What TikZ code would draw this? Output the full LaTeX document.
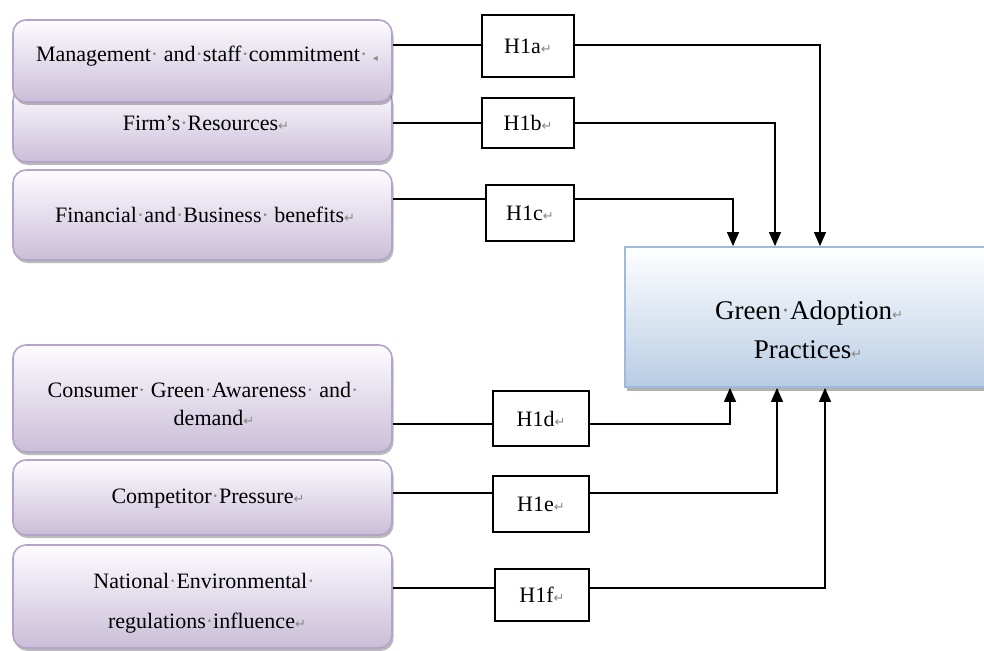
\documentclass[tikz,border=0pt]{standalone}
\usepackage{fontspec}
\setmainfont{Liberation Serif}
\newfontfamily\symfont{DejaVu Sans}
\usetikzlibrary{shadows,arrows.meta}
\definecolor{lavtop}{RGB}{253,252,255}
\definecolor{lavbot}{RGB}{202,190,216}
\definecolor{lavline}{RGB}{180,164,201}
\definecolor{bluebot}{RGB}{184,204,228}
\definecolor{blueline}{RGB}{160,186,220}
\definecolor{markgray}{RGB}{135,135,135}
\newcommand\wsdot{\textcolor{markgray}{·}}
\newcommand\retmark{{\symfont\fontsize{13}{13}\selectfont\textcolor{markgray}{↵}}}
\newcommand\tailmark{{\symfont\fontsize{10}{10}\selectfont\textcolor{markgray}{◂}}}
\begin{document}
\begin{tikzpicture}[x=1pt,y=-1pt,
  factor/.style={draw=lavline, line width=1.6pt, rounded corners=13pt,
    top color=lavtop, bottom color=lavbot, minimum width=379pt, inner sep=0pt,
    drop shadow={shadow xshift=1.5pt, shadow yshift=-3pt, fill=black!60, opacity=0.45}},
  hyp/.style={draw=black, line width=1.2pt, fill=white, inner sep=0pt,
    font=\fontsize{22}{26}\selectfont},
  txt/.style={font=\fontsize{22}{26}\selectfont, inner sep=0pt, anchor=base},
  gtxt/.style={font=\fontsize{27}{32}\selectfont, inner sep=0pt, anchor=base},
  ln/.style={draw=black, line width=1.2pt},
  arr/.style={ln, -{Triangle[width=12pt,length=14pt]}}]
\useasboundingbox (0,0) rectangle (984,650);

% factor boxes (box2 first: lies behind box1)
\node[factor, minimum height=74pt]  (b2) at (202.5,125) {};
\node[factor, minimum height=82pt]  (b1) at (202.5,61) {};
\node[factor, minimum height=90pt]  (b3) at (202.5,215) {};
\node[factor, minimum height=107pt] (b4) at (202.5,398.5) {};
\node[factor, minimum height=75pt]  (b5) at (202.5,497.5) {};
\node[factor, minimum height=103pt] (b6) at (202.5,596.5) {};

\node[txt] (t1)  at (207,62)  {Management\wsdot\ and\wsdot staff\wsdot commitment\wsdot\ \tailmark};
\node[txt] (t2)  at (206,130) {Firm’s\wsdot Resources\retmark};
\node[txt] (t3)  at (205,222) {Financial\wsdot and\wsdot Business\wsdot\ benefits\retmark};
\node[txt] (t4a) at (203,397) {Consumer\wsdot\ Green\wsdot Awareness\wsdot\ and\wsdot};
\node[txt] (t4b) at (214,425) {demand\retmark};
\node[txt] (t5)  at (208,503) {Competitor\wsdot Pressure\retmark};
\node[txt] (t6a) at (204,588) {National\wsdot Environmental\wsdot};
\node[txt] (t6b) at (207,628) {regulations\wsdot influence\retmark};

% outcome box
\node[draw=blueline, line width=1.8pt, top color=white, bottom color=bluebot,
      minimum width=365pt, minimum height=140pt, inner sep=0pt,
      drop shadow={shadow xshift=2pt, shadow yshift=-4pt, fill=black!60, opacity=0.5}]
      (gb) at (807.5,317) {};
\node[gtxt] (g1) at (809,319) {Green\wsdot Adoption\retmark};
\node[gtxt] (g2) at (808,358) {Practices\retmark};

% hypothesis boxes
\node[hyp, minimum width=92pt, minimum height=62pt] (h1a) at (528,46)    {H1a\retmark};
\node[hyp, minimum width=92pt, minimum height=50pt] (h1b) at (528,123)   {H1b\retmark};
\node[hyp, minimum width=88pt, minimum height=56pt] (h1c) at (530,213)   {H1c\retmark};
\node[hyp, minimum width=96pt, minimum height=55pt] (h1d) at (541,418.5) {H1d\retmark};
\node[hyp, minimum width=96pt, minimum height=56pt] (h1e) at (541,504)   {H1e\retmark};
\node[hyp, minimum width=94pt, minimum height=52pt] (h1f) at (542,595)   {H1f\retmark};

% helper coordinates
\coordinate (ya) at (0,45);
\coordinate (yc) at (0,199);
\coordinate (yd) at (0,424);
\coordinate (ye) at (0,493);
\coordinate (yf) at (0,588);
\coordinate (xa) at (820,0);
\coordinate (xb) at (775,0);
\coordinate (xc) at (733,0);
\coordinate (xd) at (730,0);
\coordinate (xe) at (777,0);
\coordinate (xf) at (825,0);

% connectors
\draw[ln] (b1.east |- ya) -- (h1a.west |- ya);
\draw[arr] (h1a.east |- ya) -| (gb.north -| xa);
\draw[ln] (b2.east |- h1b) -- (h1b.west);
\draw[arr] (h1b.east) -| (gb.north -| xb);
\draw[ln] (b3.east |- yc) -- (h1c.west |- yc);
\draw[arr] (h1c.east |- yc) -| (gb.north -| xc);
\draw[ln] (b4.east |- yd) -- (h1d.west |- yd);
\draw[arr] (h1d.east |- yd) -| (gb.south -| xd);
\draw[ln] (b5.east |- ye) -- (h1e.west |- ye);
\draw[arr] (h1e.east |- ye) -| (gb.south -| xe);
\draw[ln] (b6.east |- yf) -- (h1f.west |- yf);
\draw[arr] (h1f.east |- yf) -| (gb.south -| xf);
\end{tikzpicture}
\end{document}
